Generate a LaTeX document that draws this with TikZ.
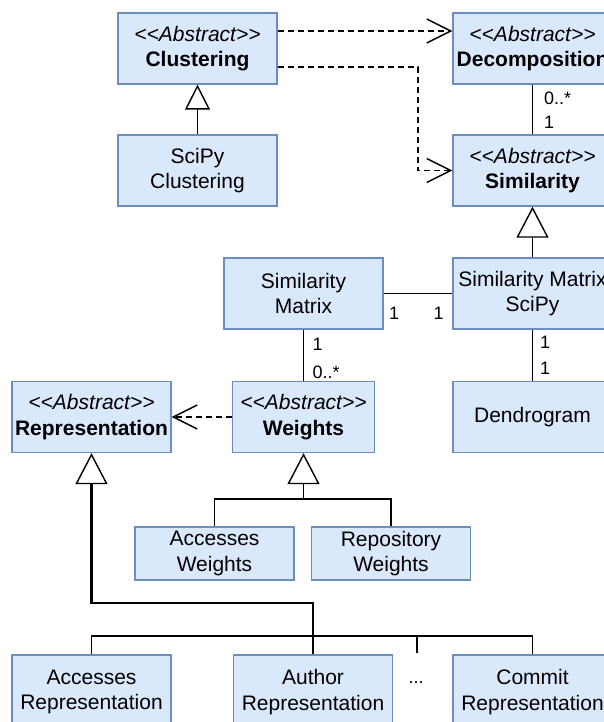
\documentclass[tikz,border=0pt]{standalone}
\usepackage{fontspec}
\setmainfont{Liberation Sans}
\usetikzlibrary{arrows.meta}
\definecolor{boxfill}{HTML}{DAE8FC}
\definecolor{boxline}{HTML}{6C8EBF}
\begin{document}
\begin{tikzpicture}[x=1pt,y=-1pt,
  box/.style={draw=boxline, fill=boxfill, line width=1.3pt, minimum width=159pt,
    minimum height=71pt, inner sep=0pt, align=center, font=\fontsize{21}{25.5}\selectfont},
  lbl/.style={inner sep=0pt, font=\fontsize{18}{21}\selectfont},
  conn/.style={line width=1.4pt, draw=black},
  dep/.style={conn, dash pattern=on 6pt off 4pt,
    -{Straight Barb[length=24pt,width=24pt,line width=1.4pt]}},
  gen/.style={conn, -{Triangle[open,length=31pt,width=32pt,line width=1.4pt]}},
  gensmall/.style={conn, -{Triangle[open,length=25pt,width=25pt,line width=1.4pt]}},
]
\useasboundingbox (0,0) rectangle (604,722);
\clip (0,0) rectangle (604,722);

% nodes
\node[box] (clus) at (197.5,48.5) {\textit{<{}<Abstract>{}>}\\\textbf{Clustering}};
\node[box] (decomp) at (532.5,48.5) {\textit{<{}<Abstract>{}>}\\\textbf{Decomposition}};
\node[box] (scipy) at (197.5,170.5) {SciPy\\Clustering};
\node[box] (sim) at (532.5,170.5) {\textit{<{}<Abstract>{}>}\\\textbf{Similarity}};
\node[box] (simmat) at (303.5,293.5) {Similarity\\Matrix};
\node[box] (smscipy) at (532.5,293.5) {Similarity Matrix\\SciPy};
\node[box] (rep) at (91.5,417) {\textit{<{}<Abstract>{}>}\\\textbf{Representation}};
\node[box, minimum width=142pt] (weights) at (303.5,417) {\textit{<{}<Abstract>{}>}\\\textbf{Weights}};
\node[box] (dendro) at (532.5,417) {Dendrogram};
\node[box, minimum height=53pt] (accw) at (214.5,553.5) {Accesses\\Weights};
\node[box, minimum height=53pt] (repw) at (391,553.5) {Repository\\Weights};
\node[box, minimum height=74pt] (accr) at (91.5,692) {Accesses\\Representation};
\node[box, minimum height=74pt] (autr) at (313,692) {Author\\Representation};
\node[box, minimum height=74pt] (commit) at (532.5,692) {Commit\\Representation};
\node[lbl, anchor=base] (dots) at (416,683) {...};

% helper coordinates
\coordinate (c1) at (418,170.5);
\coordinate (wj) at (303.5,499);
\coordinate (rj) at (91.5,603);
\coordinate (busl) at (91.5,636);
\coordinate (busr) at (532.5,636);
\coordinate (dtop) at (417,653);

% dependencies
\draw[dep] ([yshift=17.5pt]clus.east) -- ([yshift=17.5pt]decomp.west);
\draw[dep] ([yshift=-18.5pt]clus.east) -| (c1) -- (sim.west);
\draw[dep] (weights) -- (rep);

% generalizations
\draw[gensmall] (scipy) -- (clus);
\draw[gen] (smscipy) -- (sim);
\draw[gen] (wj) -- (weights.south);
\draw[conn] (accw.north) |- (wj) -| (repw.north);
\draw[conn] (accr.north) -- (busl) -- (busr) -- (commit.north);
\draw[conn] (dtop) -- (dtop |- busl);
\draw[gen, line width=2.2pt] (autr.north) |- (rj) -- (rep.south);

% associations
\draw[conn] (decomp) -- (sim);
\node[lbl, anchor=base west] (m1) at (544,105) {0..*};
\node[lbl, anchor=base west] (m2) at (544,129) {1};
\draw[conn] (simmat) -- (smscipy);
\node[lbl, anchor=base] (m3) at (394,319) {1};
\node[lbl, anchor=base] (m4) at (438.5,319) {1};
\draw[conn] (simmat) -- (weights);
\node[lbl, anchor=base west] (m5) at (312.5,350) {1};
\node[lbl, anchor=base west] (m6) at (312.5,378) {0..*};
\draw[conn] (smscipy) -- (dendro);
\node[lbl, anchor=base west] (m7) at (540,348) {1};
\node[lbl, anchor=base west] (m8) at (540,374) {1};
\end{tikzpicture}
\end{document}
